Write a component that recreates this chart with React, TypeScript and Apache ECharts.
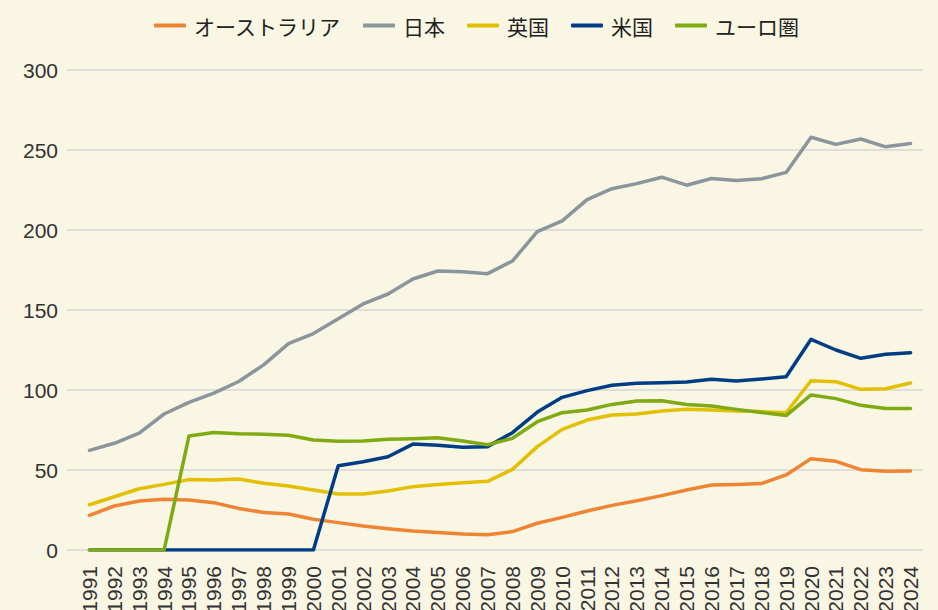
import React, { useEffect, useRef } from "react";
import * as echarts from "echarts";

const years = [
  "1991","1992","1993","1994","1995","1996","1997","1998","1999","2000",
  "2001","2002","2003","2004","2005","2006","2007","2008","2009","2010",
  "2011","2012","2013","2014","2015","2016","2017","2018","2019","2020",
  "2021","2022","2023","2024",
];

const australia = [
  21.7, 27.5, 30.6, 31.7, 31.2, 29.6, 26.0, 23.5, 22.5, 19.2,
  17.1, 15.0, 13.3, 11.9, 11.0, 10.0, 9.6, 11.5, 16.7, 20.4,
  24.4, 27.9, 30.8, 34.0, 37.5, 40.6, 41.0, 41.5, 46.9, 57.1,
  55.4, 50.2, 49.2, 49.4,
];

const japan = [
  62.3, 66.7, 73.0, 85.0, 92.3, 98.0, 105.3, 115.7, 129.0, 135.3,
  144.5, 153.8, 160.0, 169.4, 174.4, 173.9, 172.7, 180.6, 199.0, 205.7,
  219.0, 225.8, 229.0, 233.0, 228.0, 232.2, 231.0, 232.0, 236.0, 258.0,
  253.5, 256.9, 252.0, 254.0,
];

const uk = [
  28.3, 33.3, 38.3, 41.0, 44.0, 43.8, 44.4, 41.7, 40.0, 37.5,
  35.0, 35.0, 36.9, 39.6, 41.0, 42.0, 42.9, 50.4, 64.6, 75.4,
  81.2, 84.4, 85.0, 86.9, 87.9, 87.5, 86.9, 86.5, 85.8, 105.8,
  105.2, 100.4, 100.8, 104.4,
];

const us = [
  0, 0, 0, 0, 0, 0, 0, 0, 0, 0,
  52.7, 55.2, 58.3, 66.2, 65.4, 64.2, 64.6, 73.3, 86.2, 95.4,
  99.6, 103.0, 104.2, 104.6, 105.0, 106.7, 105.6, 106.9, 108.3, 131.7,
  125.0, 119.8, 122.3, 123.3,
];

const euro = [
  0, 0, 0, 0, 71.2, 73.5, 72.7, 72.3, 71.7, 68.8,
  67.9, 68.1, 69.2, 69.6, 70.2, 68.1, 65.8, 69.8, 80.2, 85.8,
  87.5, 91.0, 93.1, 93.3, 91.0, 90.0, 87.9, 86.0, 84.0, 96.9,
  94.6, 90.4, 88.5, 88.5,
];

const yTicks = { min: 0, max: 300, interval: 50 };

const seriesDefs = [
  { name: "オーストラリア", data: australia, color: "#EE8434" },
  { name: "日本", data: japan, color: "#8A959C" },
  { name: "英国", data: uk, color: "#E2C000" },
  { name: "米国", data: us, color: "#003D85" },
  { name: "ユーロ圏", data: euro, color: "#7FAA12" },
];

export default function App() {
  const ref = useRef<HTMLDivElement>(null);

  useEffect(() => {
    if (!ref.current) return;
    const chart = echarts.init(ref.current, undefined, { renderer: "svg" });
    const numFont = "'Liberation Sans', Arial, Helvetica, sans-serif";
    chart.setOption({
      animation: false,
      backgroundColor: "#FAF6E4",
      legend: {
        top: 10,
        left: 149,
        itemWidth: 32,
        itemHeight: 4,
        itemGap: 22,
        icon: "roundRect",
        textStyle: {
          fontSize: 21,
          color: "#222",
          fontFamily: "'Noto Sans CJK JP', sans-serif",
          padding: [0, 0, 0, 3],
        },
        data: seriesDefs.map((s) => s.name),
      },
      grid: [
        { left: 67, right: 15, top: 70, bottom: 60, outerBoundsMode: "none", containLabel: false },
        { left: 77, right: 15, top: 70, bottom: 60, outerBoundsMode: "none", containLabel: false },
      ],
      xAxis: [
        {
          gridIndex: 0,
          type: "category",
          data: years,
          show: false,
        },
        {
          gridIndex: 1,
          type: "category",
          data: years,
          boundaryGap: true,
          axisLine: { show: false },
          axisTick: { show: false },
          axisLabel: {
            rotate: 90,
            interval: 0,
            margin: 16,
            fontSize: 21,
            color: "#333",
            fontFamily: numFont,
          },
        },
      ],
      yAxis: [
        {
          gridIndex: 0,
          type: "value",
          min: yTicks.min,
          max: yTicks.max,
          interval: yTicks.interval,
          axisLine: { show: false },
          axisTick: { show: false },
          axisLabel: {
            margin: 9,
            fontSize: 21,
            color: "#333",
            fontFamily: numFont,
          },
          splitLine: { lineStyle: { color: "#D6D6D6", width: 1.5 } },
        },
        {
          gridIndex: 1,
          type: "value",
          min: yTicks.min,
          max: yTicks.max,
          interval: yTicks.interval,
          show: false,
          splitLine: { show: false },
        },
      ],
      series: seriesDefs.map((s) => ({
        name: s.name,
        type: "line",
        xAxisIndex: 1,
        yAxisIndex: 1,
        data: s.data,
        symbol: "none",
        color: s.color,
        lineStyle: { color: s.color, width: 3.5, cap: "round", join: "round" },
      })),
    });
    return () => chart.dispose();
  }, []);

  return (
    <div
      ref={ref}
      style={{ position: "fixed", left: 0, top: 0, width: 938, height: 610 }}
    />
  );
}
